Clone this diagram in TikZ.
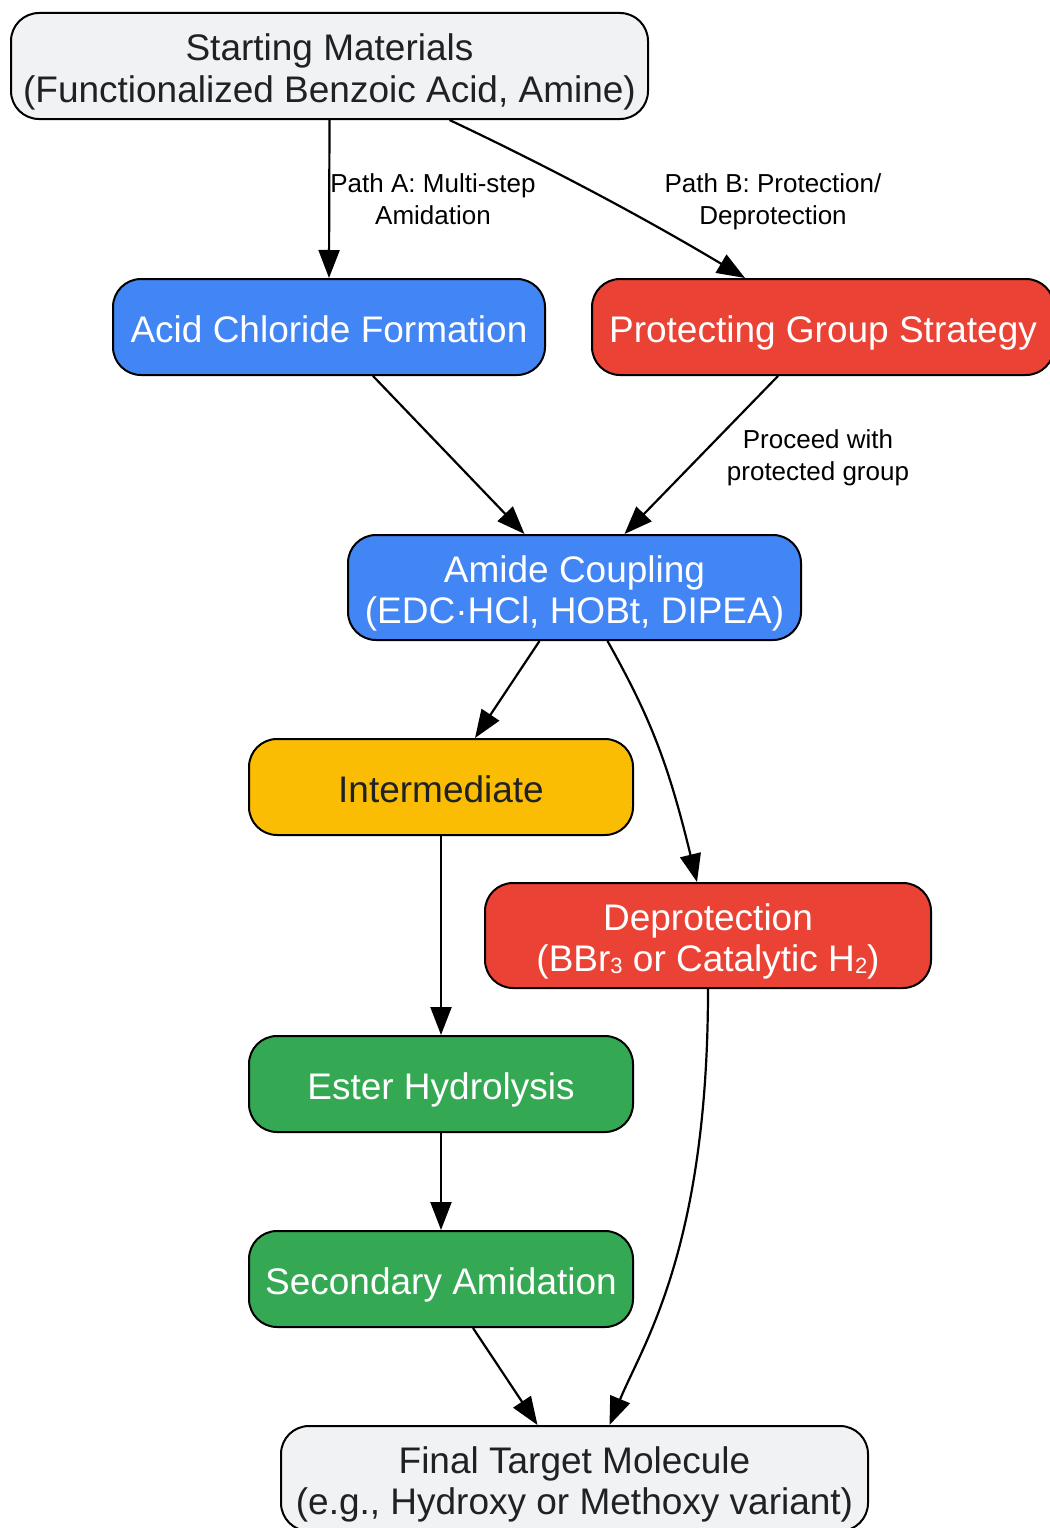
\documentclass[tikz,border=0pt]{standalone}
\usepackage{fontspec}
\setmainfont{Liberation Sans}
\usetikzlibrary{arrows.meta}
\definecolor{gfill}{HTML}{F1F2F4}
\definecolor{bfill}{HTML}{4285F4}
\definecolor{rfill}{HTML}{EA4335}
\definecolor{yfill}{HTML}{FBBC04}
\definecolor{grfill}{HTML}{34A853}
\definecolor{dtext}{HTML}{202124}
\newcommand\mysubs[1]{\raisebox{-2pt}{\fontsize{22}{22}\selectfont #1}}
\newcommand\mo{\rule[-9pt]{0pt}{48pt}}
\newcommand\mf{\rule[-9pt]{0pt}{49pt}}
\newcommand\mn{\rule[-9pt]{0pt}{41pt}}
\newcommand\ls{\rule[-7pt]{0pt}{32pt}}
\begin{document}
\begin{tikzpicture}[x=1pt,y=-1pt,
  box/.style={draw=black, line width=2pt, rounded corners=28pt, inner sep=0pt,
    align=center, font=\fontsize{37}{41}\selectfont},
  graybox/.style={box, fill=gfill, text=dtext},
  bluebox/.style={box, fill=bfill, text=white},
  redbox/.style={box, fill=rfill, text=white},
  yellowbox/.style={box, fill=yfill, text=dtext},
  greenbox/.style={box, fill=grfill, text=white},
  conn/.style={line width=2.2pt, draw=black, -{Triangle[length=28pt,width=21pt]}},
  lbl/.style={font=\fontsize{26}{32}\selectfont, align=center, inner sep=0pt, text=black}
]
\useasboundingbox (0,0) rectangle (1049,1528);
\fill[white] (0,0) rectangle (1049,1528);

\node[graybox, minimum width=637pt, minimum height=106pt] (start) at (329.5,66)
  {\mf Starting Materials\\\mn(Functionalized Benzoic Acid, Amine)};
\node[bluebox, minimum width=432pt, minimum height=96pt] (acid) at (329,327)
  {\mo Acid Chloride Formation};
\node[redbox, minimum width=462pt, minimum height=96pt] (prot) at (823,327)
  {\mo Protecting Group Strategy};
\node[bluebox, minimum width=453pt, minimum height=105pt] (amide) at (574.5,587.5)
  {\mf Amide Coupling\\\mn(EDC·HCl, HOBt, DIPEA)};
\node[yellowbox, minimum width=384pt, minimum height=96pt] (inter) at (441,787)
  {\mo Intermediate};
\node[redbox, minimum width=446pt, minimum height=105pt] (dep) at (708,935.5)
  {\mf Deprotection\\\mn(BBr\mysubs{3} or Catalytic H\mysubs{2})};
\node[greenbox, minimum width=384pt, minimum height=96pt] (ester) at (441,1084)
  {\mo Ester Hydrolysis};
\node[greenbox, minimum width=384pt, minimum height=96pt] (sec) at (441,1279)
  {\mo Secondary Amidation};
\node[graybox, minimum width=587pt, minimum height=105pt] (final) at (574.5,1478.5)
  {\mf Final Target Molecule\\\mn(e.g., Hydroxy or Methoxy variant)};

\draw[conn] (start.south) -- (acid.north);
\draw[conn] ([xshift=120pt]start.south) .. controls ([xshift=230pt,yshift=-52pt]start.south) and ([xshift=-170pt,yshift=55pt]prot.north) .. ([xshift=-78pt]prot.north);
\draw[conn] ([xshift=44pt]acid.south) -- ([xshift=-50pt]amide.north);
\draw[conn] ([xshift=-45pt]prot.south) -- ([xshift=50pt]amide.north);
\draw[conn] ([xshift=-35pt]amide.south) -- ([xshift=34pt]inter.north);
\draw[conn] ([xshift=33pt]amide.south) .. controls ([xshift=75pt,yshift=-75pt]amide.south) and ([xshift=-40pt,yshift=120pt]dep.north) .. ([xshift=-11pt]dep.north);
\draw[conn] (inter.south) -- (ester.north);
\draw[conn] (dep.south) .. controls ([yshift=-260pt]dep.south) and ([xshift=68pt,yshift=80pt]final.north) .. ([xshift=35pt]final.north);
\draw[conn] (ester.south) -- (sec.north);
\draw[conn] ([xshift=32pt]sec.south) -- ([xshift=-37pt]final.north);

\node[lbl] (la) at (433,199) {\ls Path A: Multi-step\\\ls Amidation};
\node[lbl] (lb) at (773,199) {\ls Path B: Protection/\\\ls Deprotection};
\node[lbl] (lc) at (818,455) {\ls Proceed with\\\ls protected group};
\end{tikzpicture}
\end{document}
